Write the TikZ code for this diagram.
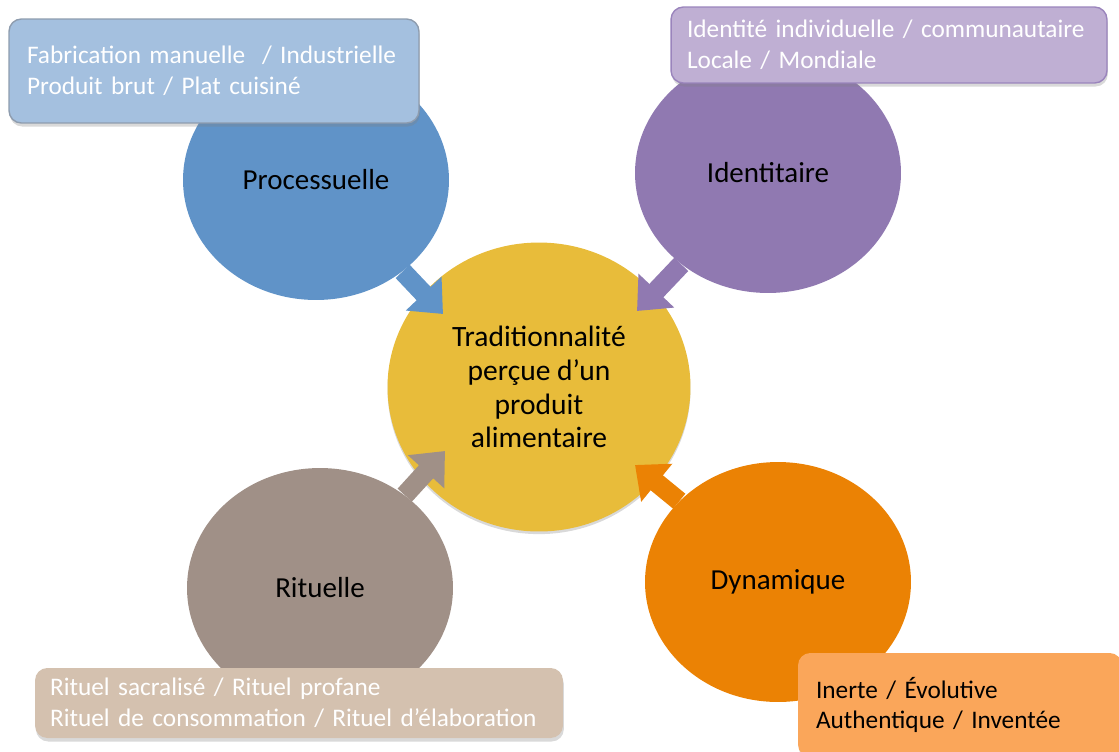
\documentclass[tikz,border=0pt]{standalone}
\usepackage{fontspec}
\setmainfont{Carlito}
\usetikzlibrary{arrows.meta, shapes.geometric, shadows}
\definecolor{procblue}{HTML}{6093C8}
\definecolor{proclt}{HTML}{A4C0DF}
\definecolor{procedge}{HTML}{8E9CAE}
\definecolor{identpurple}{HTML}{9079B1}
\definecolor{identlt}{HTML}{BFAFD3}
\definecolor{identedge}{HTML}{9A84BC}
\definecolor{ritbrown}{HTML}{A09087}
\definecolor{ritlt}{HTML}{D4C1AF}
\definecolor{dynorange}{HTML}{EB8204}
\definecolor{dynlt}{HTML}{FAA65A}
\definecolor{coreyellow}{HTML}{E8BC3A}
\tikzset{
  dim/.style={ellipse, fill=#1, minimum width=5.32cm, minimum height=4.8cm,
              inner sep=0pt, font=\fontsize{16.5}{19}\selectfont, text=black},
  core/.style={ellipse, fill=coreyellow, minimum width=6.06cm, minimum height=5.78cm,
               inner sep=0pt, align=center, font=\fontsize{16.8}{19.2}\selectfont, text=black,
               drop shadow={opacity=0.3, shadow xshift=0pt, shadow yshift=-1.5pt}},
  tag/.style={rounded corners=7pt, fill=#1, align=left, inner ysep=0pt,
              font=\fontsize{14.4}{17.4}\selectfont, text=white,
              drop shadow={opacity=0.3, shadow xshift=0.5pt, shadow yshift=-2pt}},
  fl/.style={-{Triangle[length=16pt, width=27pt]}, line width=11pt, draw=#1},
}
\begin{document}
\begin{tikzpicture}[x=0.02cm, y=-0.02cm]
  \clip (0,0) rectangle (1119,751);
  % four dimensions round the core
  \node[dim=procblue] (proc) at (316,180) {Processuelle};
  \node[dim=identpurple] (ident) at (768,173) {Identitaire};
  \node[dim=ritbrown] (rit) at (320,588) {Rituelle};
  \node[dim=dynorange] (dyn) at (778,582) {Dynamique};
  \node[core] (trad) at (539,387) {Traditionnalité\\perçue d’un\\produit\\alimentaire};
  % arrow tips
  \coordinate (tipP) at (443,314);
  \coordinate (tipI) at (637,311);
  \coordinate (tipR) at (445,451);
  \coordinate (tipD) at (635,465);
  \draw[fl=procblue] (proc) -- (tipP);
  \draw[fl=identpurple] (ident) -- (tipI);
  \draw[fl=ritbrown] (rit) -- (tipR);
  \draw[fl=dynorange] (dyn) -- (tipD);
  % sub-dimensions
  \node[tag=proclt, draw=procedge, line width=0.8pt, inner xsep=0.36cm, text width=7.48cm,
        minimum height=2.08cm] (procsub) at (214,71)
        {Fabrication manuelle \ / Industrielle\\Produit brut / Plat cuisiné};
  \node[tag=identlt, draw=identedge, line width=0.8pt, inner xsep=0.32cm, text width=8.08cm,
        minimum height=1.52cm] (identsub) at (889,45)
        {Identité individuelle / communautaire\\Locale / Mondiale};
  \node[tag=ritlt, inner xsep=0.3cm, text width=9.96cm,
        minimum height=1.4cm] (ritsub) at (299,703)
        {Rituel sacralisé / Rituel profane\\Rituel de consommation / Rituel d’élaboration};
  \node[tag=dynlt, text=black, inner xsep=0.36cm, text width=5.76cm,
        minimum height=2.08cm] (dynsub) at (960,705)
        {Inerte / Évolutive\\Authentique / Inventée};
\end{tikzpicture}
\end{document}
